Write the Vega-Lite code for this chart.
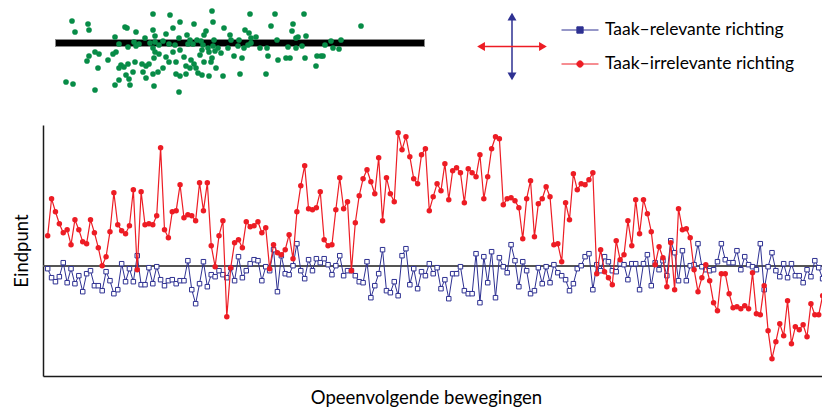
{
  "$schema": "https://vega.github.io/schema/vega-lite/v6.json",
  "padding": {"left": 12, "top": 5, "right": 0, "bottom": 0},
  "background": "white",
  "spacing": 25,
  "config": {
    "view": {"stroke": null},
    "font": "Lato",
    "axis": {"labels": false, "ticks": false, "grid": false, "domainColor": "#1a1a1a", "domainWidth": 1.5, "titleFont": "Lato", "titleFontSize": 18.5, "titleFontWeight": "normal", "titleColor": "black"},
    "axisX": {"titlePadding": 12, "titleX": 383},
    "axisY": {"titlePadding": 12}
  },
  "resolve": {"scale": {"color": "independent", "stroke": "independent", "fill": "independent", "shape": "independent"}, "legend": {"stroke": "independent", "fill": "independent", "shape": "independent", "color": "independent"}},
  "vconcat": [
    {
      "spacing": 38,
      "resolve": {"scale": {"color": "independent", "stroke": "independent", "fill": "independent", "shape": "independent"}, "legend": {"stroke": "independent", "fill": "independent", "shape": "independent", "color": "independent"}},
      "hconcat": [
        {
          "width": 390,
          "height": 95,
          "data": {"values": [
            {"x":-168,"y":22},{"x":-165,"y":11},{"x":-152,"y":19},{"x":-151,"y":13},{"x":-115,"y":16},{"x":-113,"y":15},{"x":-104,"y":11},{"x":-87,"y":29},{"x":-70,"y":28},{"x":-60,"y":21},
            {"x":-67,"y":15},{"x":-87,"y":13},{"x":-85,"y":7},{"x":-74,"y":9},{"x":-95,"y":5},{"x":-125,"y":6},{"x":-121,"y":-1},{"x":-112,"y":-4},{"x":-106,"y":1},{"x":-104,"y":-3},
            {"x":-101,"y":-1},{"x":-90,"y":0},{"x":-85,"y":1},{"x":-81,"y":-2},{"x":-77,"y":2},{"x":-71,"y":-1},{"x":-65,"y":-2},{"x":-61,"y":5},{"x":-145,"y":-9},{"x":-141,"y":-11},
            {"x":-151,"y":-13},{"x":-153,"y":-18},{"x":-142,"y":-25},{"x":-132,"y":-17},{"x":-127,"y":-11},{"x":-124,"y":-9},{"x":-119,"y":-22},{"x":-116,"y":-24},{"x":-112,"y":-21},{"x":-105,"y":-19},
            {"x":-98,"y":-21},{"x":-94,"y":-23},{"x":-91,"y":-21},{"x":-86,"y":-15},{"x":-85,"y":-9},{"x":-87,"y":-5},{"x":-81,"y":-11},{"x":-74,"y":-14},{"x":-71,"y":-19},{"x":-64,"y":-19},
            {"x":-67,"y":-9},{"x":-60,"y":-7},{"x":-121,"y":-25},{"x":-114,"y":-32},{"x":-111,"y":-36},{"x":-107,"y":-29},{"x":-97,"y":-29},{"x":-94,"y":-35},{"x":-87,"y":-31},{"x":-82,"y":-29},
            {"x":-77,"y":-25},{"x":-121,"y":-37},{"x":-125,"y":-42},{"x":-110,"y":-42},{"x":-86,"y":-43},{"x":-64,"y":-31},{"x":-60,"y":-33},{"x":-174,"y":-39},{"x":-167,"y":-41},{"x":-145,"y":-47},
            {"x":-61,"y":-49},{"x":-28,"y":32},{"x":10,"y":29},{"x":35,"y":29},{"x":64,"y":29},{"x":-46,"y":19},{"x":-27,"y":21},{"x":-16,"y":15},{"x":5,"y":13},{"x":9,"y":10},
            {"x":31,"y":17},{"x":53,"y":19},{"x":52,"y":12},{"x":-34,"y":12},{"x":-36,"y":8},{"x":-53,"y":8},{"x":-43,"y":3},{"x":-50,"y":3},{"x":-39,"y":2},{"x":-26,"y":3},
            {"x":-10,"y":8},{"x":-9,"y":3},{"x":-1,"y":3},{"x":11,"y":5},{"x":16,"y":6},{"x":37,"y":3},{"x":56,"y":5},{"x":58,"y":6},{"x":-52,"y":-1},{"x":-47,"y":-1},
            {"x":-37,"y":-2},{"x":-32,"y":-5},{"x":-27,"y":-3},{"x":-22,"y":-5},{"x":-12,"y":-5},{"x":-2,"y":-3},{"x":4,"y":-5},{"x":8,"y":-2},{"x":11,"y":0},{"x":20,"y":-5},
            {"x":27,"y":-5},{"x":48,"y":-4},{"x":56,"y":-5},{"x":62,"y":-3},{"x":-38,"y":-7},{"x":-31,"y":-9},{"x":-25,"y":-8},{"x":-19,"y":-10},{"x":-56,"y":-14},{"x":-49,"y":-17},
            {"x":-40,"y":-12},{"x":-28,"y":-15},{"x":-6,"y":-13},{"x":2,"y":-15},{"x":28,"y":-13},{"x":46,"y":-15},{"x":50,"y":-15},{"x":38,"y":-17},{"x":65,"y":-15},{"x":-54,"y":-23},
            {"x":-46,"y":-21},{"x":-44,"y":-25},{"x":-36,"y":-19},{"x":-29,"y":-19},{"x":-24,"y":-25},{"x":-50,"y":-25},{"x":-42,"y":-30},{"x":-54,"y":-31},{"x":-38,"y":-32},{"x":-31,"y":-33},
            {"x":-17,"y":-33},{"x":0,"y":-31},{"x":26,"y":-31},{"x":121,"y":17},{"x":91,"y":2},{"x":101,"y":3},{"x":85,"y":-2},{"x":93,"y":-5},{"x":99,"y":-6},{"x":77,"y":-13},
            {"x":81,"y":-13},{"x":83,"y":-13},{"x":76,"y":-23},{"x":66,"y":7}
          ]},
          "layer": [
            {
              "mark": {"type": "rule", "color": "#8a8a8a", "strokeWidth": 7.5, "strokeCap": "butt"},
              "encoding": {
                "x": {"datum": -184.5, "type": "quantitative", "scale": {"domain": [-197, 193], "nice": false, "zero": false}, "axis": null},
                "x2": {"datum": 184.5},
                "y": {"datum": 0, "type": "quantitative", "scale": {"domain": [-57, 38], "nice": false, "zero": false}, "axis": null}
              }
            },
            {
              "mark": {"type": "rule", "color": "black", "strokeWidth": 6, "strokeCap": "butt"},
              "encoding": {
                "x": {"datum": -184, "type": "quantitative", "scale": {"domain": [-197, 193], "nice": false, "zero": false}, "axis": null},
                "x2": {"datum": 184},
                "y": {"datum": 0, "type": "quantitative", "scale": {"domain": [-57, 38], "nice": false, "zero": false}, "axis": null}
              }
            },
            {
              "mark": {"type": "circle", "color": "#078c47", "size": 32, "opacity": 1},
              "encoding": {
                "x": {"field": "x", "type": "quantitative", "scale": {"domain": [-197, 193], "nice": false, "zero": false}, "axis": null},
                "y": {"field": "y", "type": "quantitative", "scale": {"domain": [-57, 38], "nice": false, "zero": false}, "axis": null}
              }
            }
          ]
        },
        {
          "width": 82,
          "height": 83,
          "layer": [
            {
              "data": {"values": [
                {"richting": "Taak–relevante richting", "x1": 0, "y1": -0.86, "x2": 0, "y2": 0.86},
                {"richting": "Taak–irrelevante richting", "x1": -0.86, "y1": 0, "x2": 0.86, "y2": 0}
              ]},
              "mark": {"type": "rule", "strokeWidth": 1.5},
              "encoding": {
                "x": {"field": "x1", "type": "quantitative", "scale": {"domain": [-1.139, 1.139], "nice": false, "zero": false}, "axis": null},
                "x2": {"field": "x2"},
                "y": {"field": "y1", "type": "quantitative", "scale": {"domain": [-1.19, 1.19], "nice": false, "zero": false}, "axis": null},
                "y2": {"field": "y2"},
                "stroke": {
                  "field": "richting", "type": "nominal",
                  "scale": {"domain": ["Taak–relevante richting", "Taak–irrelevante richting"], "range": ["#2e3192", "#ed1c24"]},
                  "legend": {
                    "title": null, "orient": "none", "legendX": 90, "legendY": 6, "direction": "vertical",
                    "symbolSize": 1369, "symbolStrokeWidth": 1, "symbolType": "stroke",
                    "labelFont": "Lato", "labelFontSize": 17.5, "labelColor": "black", "labelOffset": 6, "labelLimit": 0,
                    "rowPadding": 6, "padding": 0,
                    "encode": {"symbols": {"update": {
                      "shape": {"signal": "datum.value === 'Taak–relevante richting' ? 'M-1,0H-0.17M0.17,0H1M-0.17,-0.17H0.17V0.17H-0.17Z' : 'M-1,0H1M0.17,0A0.17,0.17,0,1,1,-0.17,0A0.17,0.17,0,1,1,0.17,0Z'"},
                      "fill": {"signal": "datum.value === 'Taak–relevante richting' ? '#ffffff' : '#ed1c24'"},
                      "fillOpacity": {"value": 1},
                      "strokeWidth": {"value": 1}
                    }}}
                  }
                }
              }
            },
            {
              "data": {"values": [
                {"richting": "Taak–relevante richting", "punt": "boven", "x": 0, "y": 0.86},
                {"richting": "Taak–relevante richting", "punt": "onder", "x": 0, "y": -0.86},
                {"richting": "Taak–irrelevante richting", "punt": "links", "x": -0.86, "y": 0},
                {"richting": "Taak–irrelevante richting", "punt": "rechts", "x": 0.86, "y": 0}
              ]},
              "mark": {"type": "point", "filled": true, "size": 80, "opacity": 1},
              "encoding": {
                "x": {"field": "x", "type": "quantitative", "scale": {"domain": [-1.139, 1.139], "nice": false, "zero": false}, "axis": null},
                "y": {"field": "y", "type": "quantitative", "scale": {"domain": [-1.19, 1.19], "nice": false, "zero": false}, "axis": null},
                "shape": {"field": "punt", "type": "nominal", "scale": {"domain": ["boven", "onder", "links", "rechts"], "range": ["triangle-up", "triangle-down", "triangle-left", "triangle-right"]}, "legend": null},
                "fill": {"field": "richting", "type": "nominal", "scale": {"domain": ["Taak–relevante richting", "Taak–irrelevante richting"], "range": ["#2e3192", "#ed1c24"]}, "legend": null}
              }
            }
          ]
        }
      ]
    },
    {
      "width": 780,
      "height": 251,
      "data": {"values": [
        {"beweging":1,"relevant":-3,"irrelevant":30},{"beweging":2,"relevant":-12,"irrelevant":67},{"beweging":3,"relevant":-16,"irrelevant":54},{"beweging":4,"relevant":-11,"irrelevant":42},{"beweging":5,"relevant":3,"irrelevant":33},
        {"beweging":6,"relevant":-17,"irrelevant":36},{"beweging":7,"relevant":-3,"irrelevant":21},{"beweging":8,"relevant":-18,"irrelevant":46},{"beweging":9,"relevant":-10,"irrelevant":36},{"beweging":10,"relevant":-26,"irrelevant":24},
        {"beweging":11,"relevant":-8,"irrelevant":22},{"beweging":12,"relevant":-5,"irrelevant":46},{"beweging":13,"relevant":-20,"irrelevant":33},{"beweging":14,"relevant":-20,"irrelevant":18},{"beweging":15,"relevant":-25,"irrelevant":0},
        {"beweging":16,"relevant":-6,"irrelevant":9},{"beweging":17,"relevant":-15,"irrelevant":34},{"beweging":18,"relevant":-28,"irrelevant":73},{"beweging":19,"relevant":-24,"irrelevant":41},{"beweging":20,"relevant":2,"irrelevant":35},
        {"beweging":21,"relevant":-16,"irrelevant":32},{"beweging":22,"relevant":-3,"irrelevant":40},{"beweging":23,"relevant":-16,"irrelevant":76},{"beweging":24,"relevant":10,"irrelevant":-4},{"beweging":25,"relevant":-19,"irrelevant":74},
        {"beweging":26,"relevant":-19,"irrelevant":41},{"beweging":27,"relevant":-2,"irrelevant":42},{"beweging":28,"relevant":-18,"irrelevant":41},{"beweging":29,"relevant":-1,"irrelevant":50},{"beweging":30,"relevant":-14,"irrelevant":118},
        {"beweging":31,"relevant":-20,"irrelevant":36},{"beweging":32,"relevant":-15,"irrelevant":28},{"beweging":33,"relevant":-14,"irrelevant":54},{"beweging":34,"relevant":-18,"irrelevant":55},{"beweging":35,"relevant":-15,"irrelevant":81},
        {"beweging":36,"relevant":-15,"irrelevant":48},{"beweging":37,"relevant":5,"irrelevant":51},{"beweging":38,"relevant":-24,"irrelevant":50},{"beweging":39,"relevant":-38,"irrelevant":45},{"beweging":40,"relevant":-18,"irrelevant":83},
        {"beweging":41,"relevant":4,"irrelevant":55},{"beweging":42,"relevant":-21,"irrelevant":83},{"beweging":43,"relevant":-9,"irrelevant":20},{"beweging":44,"relevant":-11,"irrelevant":-1},{"beweging":45,"relevant":-5,"irrelevant":30},
        {"beweging":46,"relevant":-9,"irrelevant":45},{"beweging":47,"relevant":-12,"irrelevant":-51},{"beweging":48,"relevant":-2,"irrelevant":-2},{"beweging":49,"relevant":-15,"irrelevant":23},{"beweging":50,"relevant":9,"irrelevant":26},
        {"beweging":51,"relevant":-12,"irrelevant":18},{"beweging":52,"relevant":-5,"irrelevant":44},{"beweging":53,"relevant":2,"irrelevant":39},{"beweging":54,"relevant":6,"irrelevant":40},{"beweging":55,"relevant":5,"irrelevant":44},
        {"beweging":56,"relevant":-15,"irrelevant":33},{"beweging":57,"relevant":-1,"irrelevant":38},{"beweging":58,"relevant":-5,"irrelevant":-3},{"beweging":59,"relevant":16,"irrelevant":21},{"beweging":60,"relevant":-26,"irrelevant":13},
        {"beweging":61,"relevant":10,"irrelevant":11},{"beweging":62,"relevant":-8,"irrelevant":16},{"beweging":63,"relevant":-9,"irrelevant":31},{"beweging":64,"relevant":0,"irrelevant":7},{"beweging":65,"relevant":22,"irrelevant":54},
        {"beweging":66,"relevant":-5,"irrelevant":80},{"beweging":67,"relevant":-13,"irrelevant":100},{"beweging":68,"relevant":6,"irrelevant":57},{"beweging":69,"relevant":-5,"irrelevant":56},{"beweging":70,"relevant":7,"irrelevant":58},
        {"beweging":71,"relevant":3,"irrelevant":74},{"beweging":72,"relevant":7,"irrelevant":26},{"beweging":73,"relevant":1,"irrelevant":20},{"beweging":74,"relevant":-9,"irrelevant":21},{"beweging":75,"relevant":0,"irrelevant":56},
        {"beweging":76,"relevant":10,"irrelevant":88},{"beweging":77,"relevant":-10,"irrelevant":57},{"beweging":78,"relevant":-5,"irrelevant":64},{"beweging":79,"relevant":-5,"irrelevant":-5},{"beweging":80,"relevant":-10,"irrelevant":43},
        {"beweging":81,"relevant":-16,"irrelevant":70},{"beweging":82,"relevant":-17,"irrelevant":87},{"beweging":83,"relevant":4,"irrelevant":96},{"beweging":84,"relevant":-32,"irrelevant":84},{"beweging":85,"relevant":-20,"irrelevant":72},
        {"beweging":86,"relevant":-8,"irrelevant":108},{"beweging":87,"relevant":16,"irrelevant":45},{"beweging":88,"relevant":-25,"irrelevant":88},{"beweging":89,"relevant":-27,"irrelevant":72},{"beweging":90,"relevant":-16,"irrelevant":64},
        {"beweging":91,"relevant":-30,"irrelevant":133},{"beweging":92,"relevant":10,"irrelevant":116},{"beweging":93,"relevant":17,"irrelevant":129},{"beweging":94,"relevant":-19,"irrelevant":109},{"beweging":95,"relevant":-3,"irrelevant":87},
        {"beweging":96,"relevant":-23,"irrelevant":82},{"beweging":97,"relevant":-6,"irrelevant":111},{"beweging":98,"relevant":-10,"irrelevant":117},{"beweging":99,"relevant":2,"irrelevant":55},{"beweging":100,"relevant":-8,"irrelevant":69},
        {"beweging":101,"relevant":-2,"irrelevant":82},{"beweging":102,"relevant":-23,"irrelevant":75},{"beweging":103,"relevant":-14,"irrelevant":102},{"beweging":104,"relevant":-33,"irrelevant":66},{"beweging":105,"relevant":-8,"irrelevant":95},
        {"beweging":106,"relevant":-8,"irrelevant":98},{"beweging":107,"relevant":-1,"irrelevant":93},{"beweging":108,"relevant":-25,"irrelevant":63},{"beweging":109,"relevant":-28,"irrelevant":97},{"beweging":110,"relevant":-28,"irrelevant":93},
        {"beweging":111,"relevant":12,"irrelevant":89},{"beweging":112,"relevant":-37,"irrelevant":111},{"beweging":113,"relevant":9,"irrelevant":67},{"beweging":114,"relevant":-17,"irrelevant":89},{"beweging":115,"relevant":14,"irrelevant":117},
        {"beweging":116,"relevant":-32,"irrelevant":129},{"beweging":117,"relevant":8,"irrelevant":127},{"beweging":118,"relevant":-1,"irrelevant":61},{"beweging":119,"relevant":-7,"irrelevant":67},{"beweging":120,"relevant":21,"irrelevant":68},
        {"beweging":121,"relevant":5,"irrelevant":65},{"beweging":122,"relevant":-21,"irrelevant":58},{"beweging":123,"relevant":4,"irrelevant":27},{"beweging":124,"relevant":-5,"irrelevant":67},{"beweging":125,"relevant":-28,"irrelevant":85},
        {"beweging":126,"relevant":-25,"irrelevant":29},{"beweging":127,"relevant":-2,"irrelevant":62},{"beweging":128,"relevant":-18,"irrelevant":67},{"beweging":129,"relevant":-1,"irrelevant":79},{"beweging":130,"relevant":-17,"irrelevant":69},
        {"beweging":131,"relevant":1,"irrelevant":21},{"beweging":132,"relevant":-7,"irrelevant":22},{"beweging":133,"relevant":-10,"irrelevant":4},{"beweging":134,"relevant":-14,"irrelevant":63},{"beweging":135,"relevant":-25,"irrelevant":46},
        {"beweging":136,"relevant":-18,"irrelevant":92},{"beweging":137,"relevant":-3,"irrelevant":76},{"beweging":138,"relevant":0,"irrelevant":82},{"beweging":139,"relevant":9,"irrelevant":81},{"beweging":140,"relevant":12,"irrelevant":86},
        {"beweging":141,"relevant":-24,"irrelevant":93},{"beweging":142,"relevant":1,"irrelevant":-8},{"beweging":143,"relevant":-5,"irrelevant":16},{"beweging":144,"relevant":9,"irrelevant":-6},{"beweging":145,"relevant":4,"irrelevant":-12},
        {"beweging":146,"relevant":-5,"irrelevant":-19},{"beweging":147,"relevant":-6,"irrelevant":25},{"beweging":148,"relevant":2,"irrelevant":6},{"beweging":149,"relevant":1,"irrelevant":11},{"beweging":150,"relevant":-14,"irrelevant":45},
        {"beweging":151,"relevant":2,"irrelevant":20},{"beweging":152,"relevant":2,"irrelevant":66},{"beweging":153,"relevant":-24,"irrelevant":32},{"beweging":154,"relevant":2,"irrelevant":66},{"beweging":155,"relevant":11,"irrelevant":52},
        {"beweging":156,"relevant":-20,"irrelevant":34},{"beweging":157,"relevant":3,"irrelevant":1},{"beweging":158,"relevant":-4,"irrelevant":19},{"beweging":159,"relevant":5,"irrelevant":8},{"beweging":160,"relevant":-10,"irrelevant":-21},
        {"beweging":161,"relevant":25,"irrelevant":23},{"beweging":162,"relevant":13,"irrelevant":-24},{"beweging":163,"relevant":-15,"irrelevant":57},{"beweging":164,"relevant":15,"irrelevant":36},{"beweging":165,"relevant":-15,"irrelevant":37},
        {"beweging":166,"relevant":0,"irrelevant":28},{"beweging":167,"relevant":1,"irrelevant":-4},{"beweging":168,"relevant":22,"irrelevant":-26},{"beweging":169,"relevant":-1,"irrelevant":-12},{"beweging":170,"relevant":-4,"irrelevant":1},
        {"beweging":171,"relevant":-5,"irrelevant":-15},{"beweging":172,"relevant":-4,"irrelevant":-37},{"beweging":173,"relevant":4,"irrelevant":-45},{"beweging":174,"relevant":22,"irrelevant":-8},{"beweging":175,"relevant":6,"irrelevant":-8},
        {"beweging":176,"relevant":3,"irrelevant":-28},{"beweging":177,"relevant":3,"irrelevant":-42},{"beweging":178,"relevant":15,"irrelevant":-41},{"beweging":179,"relevant":-4,"irrelevant":-43},{"beweging":180,"relevant":9,"irrelevant":-40},
        {"beweging":181,"relevant":1,"irrelevant":-43},{"beweging":182,"relevant":-1,"irrelevant":-7},{"beweging":183,"relevant":-4,"irrelevant":-48},{"beweging":184,"relevant":22,"irrelevant":-49},{"beweging":185,"relevant":-24,"irrelevant":-20},
        {"beweging":186,"relevant":-1,"irrelevant":-65},{"beweging":187,"relevant":13,"irrelevant":-93},{"beweging":188,"relevant":-5,"irrelevant":-76},{"beweging":189,"relevant":-11,"irrelevant":-58},{"beweging":190,"relevant":2,"irrelevant":-70},
        {"beweging":191,"relevant":-12,"irrelevant":-35},{"beweging":192,"relevant":2,"irrelevant":-78},{"beweging":193,"relevant":-10,"irrelevant":-61},{"beweging":194,"relevant":-10,"irrelevant":-64},{"beweging":195,"relevant":-17,"irrelevant":-59},
        {"beweging":196,"relevant":-4,"irrelevant":-71},{"beweging":197,"relevant":-11,"irrelevant":-38},{"beweging":198,"relevant":5,"irrelevant":-49},{"beweging":199,"relevant":-2,"irrelevant":-49},{"beweging":200,"relevant":-13,"irrelevant":-30}
      ]},
      "layer": [
        {
          "mark": {"type": "rule", "color": "#555555", "strokeWidth": 1.5},
          "encoding": {
            "y": {"datum": 0, "type": "quantitative", "title": "Eindpunt", "scale": {"domain": [-110.3, 140.7], "nice": false, "zero": false}}
          }
        },
        {
          "mark": {"type": "line", "color": "#2e3192", "strokeWidth": 1},
          "encoding": {
            "x": {"field": "beweging", "type": "quantitative", "title": "Opeenvolgende bewegingen", "scale": {"domain": [-0.2, 200.1], "nice": false, "zero": false}},
            "y": {"field": "relevant", "type": "quantitative", "title": "Eindpunt", "scale": {"domain": [-110.3, 140.7], "nice": false, "zero": false}}
          }
        },
        {
          "mark": {"type": "point", "shape": "square", "size": 20, "filled": true, "fill": "white", "stroke": "#2e3192", "strokeWidth": 1, "opacity": 1, "fillOpacity": 1},
          "encoding": {
            "x": {"field": "beweging", "type": "quantitative", "title": "Opeenvolgende bewegingen", "scale": {"domain": [-0.2, 200.1], "nice": false, "zero": false}},
            "y": {"field": "relevant", "type": "quantitative", "title": "Eindpunt", "scale": {"domain": [-110.3, 140.7], "nice": false, "zero": false}}
          }
        },
        {
          "mark": {"type": "line", "color": "#ed1c24", "strokeWidth": 1.2},
          "encoding": {
            "x": {"field": "beweging", "type": "quantitative", "title": "Opeenvolgende bewegingen", "scale": {"domain": [-0.2, 200.1], "nice": false, "zero": false}},
            "y": {"field": "irrelevant", "type": "quantitative", "title": "Eindpunt", "scale": {"domain": [-110.3, 140.7], "nice": false, "zero": false}}
          }
        },
        {
          "mark": {"type": "circle", "color": "#ed1c24", "size": 30, "opacity": 1},
          "encoding": {
            "x": {"field": "beweging", "type": "quantitative", "title": "Opeenvolgende bewegingen", "scale": {"domain": [-0.2, 200.1], "nice": false, "zero": false}},
            "y": {"field": "irrelevant", "type": "quantitative", "title": "Eindpunt", "scale": {"domain": [-110.3, 140.7], "nice": false, "zero": false}}
          }
        }
      ]
    }
  ]
}
